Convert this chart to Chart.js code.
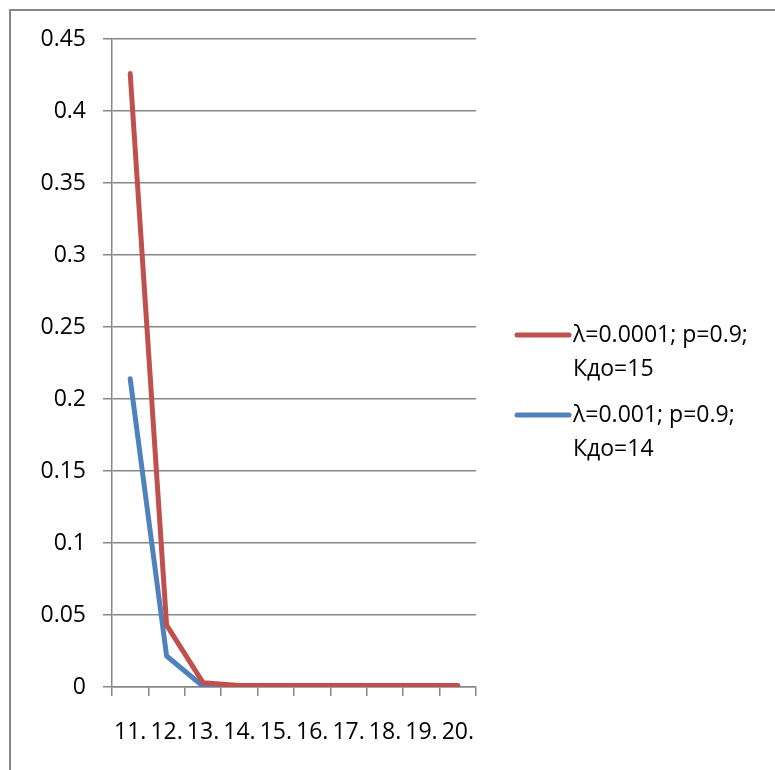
<!DOCTYPE html>
<html>
<head>
<meta charset="utf-8">
<script src="https://cdn.jsdelivr.net/npm/chart.js@4.4.1/dist/chart.umd.min.js"></script>
<style>
  html, body { margin: 0; padding: 0; background: #fff; }
  #wrap { position: relative; width: 775px; height: 770px; overflow: hidden; background: #fff; }
  #frame { position: absolute; left: 9px; top: 9px; width: 900px; height: 900px; border: 2px solid #878787; box-sizing: border-box; }
  canvas { position: absolute; left: 0; top: 0; }
</style>
</head>
<body>
<div id="wrap">
  <div id="frame"></div>
  <canvas id="c" width="775" height="770"></canvas>
</div>
<script>
const categories = ["11.", "12.", "13.", "14.", "15.", "16.", "17.", "18.", "19.", "20."];
const seriesRed = [0.426, 0.043, 0.003, 0.001, 0.001, 0.001, 0.001, 0.001, 0.001, 0.001];
const seriesBlue = [0.214, 0.0215, 0.0005, 0, 0, 0, 0, 0, 0, 0];
const labelRed = ["λ=0.0001; p=0.9;", "Кдо=15"];
const labelBlue = ["λ=0.001; p=0.9;", "Кдо=14"];
const yTicks = [0, 0.05, 0.1, 0.15, 0.2, 0.25, 0.3, 0.35, 0.4, 0.45];

const FONT = "'Open Sans', sans-serif";

const legendPlugin = {
  id: 'customLegend',
  afterDraw(chart) {
    const ctx = chart.ctx;
    const items = chart.data.datasets;
    const startY = [335, 415];
    ctx.save();
    items.forEach((ds, i) => {
      const y = startY[i];
      ctx.strokeStyle = ds.borderColor;
      ctx.lineWidth = 5;
      ctx.lineCap = 'round';
      ctx.beginPath();
      ctx.moveTo(517, y);
      ctx.lineTo(569, y);
      ctx.stroke();
      ctx.fillStyle = '#000';
      ctx.font = '23px ' + FONT;
      ctx.textBaseline = 'middle';
      ctx.textAlign = 'left';
      ds.legendLines.forEach((t, j) => {
        ctx.fillText(t, 573, y + j * 34);
      });
    });
    ctx.restore();
  }
};

new Chart(document.getElementById('c'), {
  type: 'line',
  data: {
    labels: categories,
    datasets: [
      {
        label: labelRed.join(' '),
        legendLines: labelRed,
        data: seriesRed,
        borderColor: '#C0504D',
        borderWidth: 5,
        pointRadius: 0,
        tension: 0,
        borderCapStyle: 'round',
        borderJoinStyle: 'round',
        fill: false
      },
      {
        label: labelBlue.join(' '),
        legendLines: labelBlue,
        data: seriesBlue,
        borderColor: '#4F81BD',
        borderWidth: 5,
        pointRadius: 0,
        tension: 0,
        borderCapStyle: 'round',
        borderJoinStyle: 'round',
        fill: false
      }
    ]
  },
  options: {
    responsive: false,
    animation: false,
    devicePixelRatio: 1,
    layout: { padding: { left: 0, top: 39, right: 299, bottom: 0 } },
    plugins: { legend: { display: false }, tooltip: { enabled: false } },
    scales: {
      x: {
        offset: true,
        grid: { display: true, offset: true, drawOnChartArea: false, drawTicks: true, tickLength: 9, color: '#878787', lineWidth: 1.5 },
        border: { display: true, color: '#878787', width: 1.5 },
        ticks: { color: '#000', font: { family: FONT, size: 23 }, padding: 23, maxRotation: 0, minRotation: 0, autoSkip: false },
        afterFit(scale) { scale.height = 83; }
      },
      y: {
        min: 0,
        max: 0.45,
        afterBuildTicks(scale) { scale.ticks = yTicks.map(v => ({ value: v })); },
        grid: { color: '#878787', lineWidth: 1.5, drawTicks: true, tickLength: 9 },
        border: { display: true, color: '#878787', width: 1.5 },
        ticks: {
          color: '#000',
          font: { family: FONT, size: 23 },
          padding: 17,
          callback: (v) => String(Math.round(v * 100) / 100)
        },
        afterFit(scale) { scale.width = 112; }
      }
    }
  },
  plugins: [legendPlugin]
});
</script>
</body>
</html>
